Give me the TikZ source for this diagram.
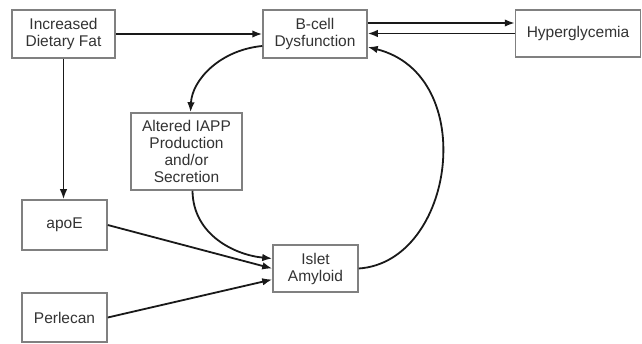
\documentclass[tikz,border=0pt]{standalone}
\usepackage{fontspec}
\setmainfont{Liberation Sans}
\usetikzlibrary{arrows.meta,calc}
\begin{document}
\begin{tikzpicture}[x=1pt,y=1pt,
  box/.style={draw=black!50, line width=1.5pt, fill=white, align=center, inner sep=2pt,
    font=\fontsize{15.5}{17}\selectfont, text=black!80},
  arr/.style={line width=1.8pt, draw=black!90, -{Latex[length=10pt,width=7.5pt]}}]
\useasboundingbox (0,0) rectangle (642,343);
\node[box, minimum width=103pt, minimum height=48pt] (fat) at (63.5,309) {Increased\\Dietary Fat};
\node[box, minimum width=104pt, minimum height=48pt] (bcell) at (315,309) {B-cell\\Dysfunction};
\node[box, minimum width=125pt, minimum height=47pt] (hyper) at (578,309.5) {Hyperglycemia};
\node[box, minimum width=111pt, minimum height=77pt] (iapp) at (186.5,191.5) {Altered IAPP\\Production\\and/or\\Secretion};
\node[box, minimum width=85pt, minimum height=50pt] (apoe) at (64.5,118) {apoE};
\node[box, minimum width=85pt, minimum height=49pt] (perl) at (64.5,25.5) {Perlecan};
\node[box, minimum width=85pt, minimum height=47pt] (islet) at (315.5,74.5) {Islet\\Amyloid};
\draw[arr] (fat.east) -- (fat.east -| bcell.west);
\draw[arr] ([yshift=11pt]bcell.east) -- ([yshift=11pt]bcell.east -| hyper.west);
\draw[arr] (hyper.west) -- (hyper.west -| bcell.east);
\draw[arr] (fat.south) -- (fat.south |- apoe.north);
\draw[arr] ([yshift=-12pt]bcell.west) .. controls (220,293) and (192,263) .. ([xshift=4pt]iapp.north);
\draw[arr] ([xshift=6pt]iapp.south) .. controls (193,108) and (235,88) .. ([yshift=10pt]islet.west);
\draw[arr] (apoe.east) -- (islet.west);
\draw[arr] (perl.east) -- ([yshift=-11pt]islet.west);
\draw[arr] (islet.east) .. controls (455,81) and (480,268) .. ([yshift=-13pt]bcell.east);
\end{tikzpicture}
\end{document}
